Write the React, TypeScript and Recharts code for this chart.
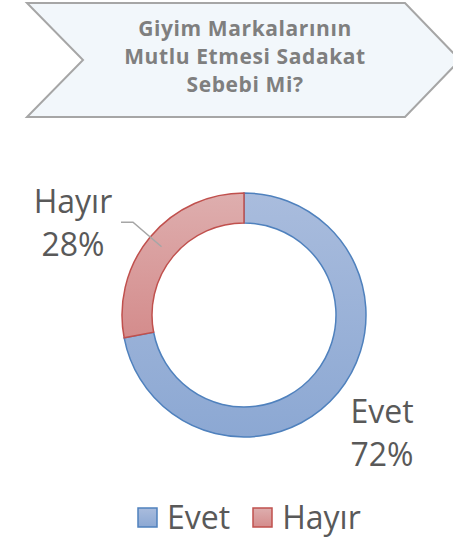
import { PieChart, Pie, Cell, Legend } from "recharts";

const categories = ["Evet", "Hayır"];
const shares = [72, 28];
const titleLines = ["Giyim Markalarının", "Mutlu Etmesi Sadakat", "Sebebi Mi?"];

const data = categories.map((name, i) => ({ name, value: shares[i] }));

const STROKES = ["#4F81BD", "#C0504D"];
const FILLS = ["url(#gradBlue)", "url(#gradRed)"];
const FONT = "'Open Sans', sans-serif";
const RAD = Math.PI / 180;

// where each label sits relative to the slice's outer edge point
const LABEL_SHIFT = [
    { dx: 44, dy: 30 },
    { dx: -77, dy: -24 },
];

const renderLabel = (props: any) => {
    const { cx, cy, midAngle, innerRadius, outerRadius, percent, name, index } = props;
    const ox = cx + outerRadius * Math.cos(-midAngle * RAD);
    const oy = cy + outerRadius * Math.sin(-midAngle * RAD);
    const shift = LABEL_SHIFT[index] || { dx: 0, dy: 0 };
    const tx = ox + shift.dx;
    const ty = oy + shift.dy;
    const mr = (innerRadius + outerRadius) / 2;
    const sx = cx + mr * Math.cos(-midAngle * RAD);
    const sy = cy + mr * Math.sin(-midAngle * RAD);
    return (
        <g>
            {index === 1 && (
                <polyline
                    points={`${sx},${sy} ${ox - 17},${oy - 15} ${ox - 29},${oy - 15}`}
                    fill="none"
                    stroke="#A6A6A6"
                    strokeWidth={1.5}
                />
            )}
            <text x={tx} y={ty} textAnchor="middle" fill="#595959" fontSize={32} fontFamily={FONT}>
                {name}
            </text>
            <text x={tx} y={ty + 43} textAnchor="middle" fill="#595959" fontSize={32} fontFamily={FONT}>
                {Math.round(percent * 100)}%
            </text>
        </g>
    );
};

const renderLegend = () => (
    <div style={{ display: "flex", alignItems: "center", marginLeft: 137, fontFamily: FONT }}>
        {categories.map((c, i) => (
            <div key={c} style={{ display: "flex", alignItems: "center", marginRight: i === 0 ? 22 : 0 }}>
                <svg width={21} height={21} style={{ marginRight: 9 }}>
                    <rect x={1} y={1} width={19} height={19} fill={FILLS[i]} stroke={STROKES[i]} strokeWidth={1.5} />
                </svg>
                <span style={{ fontSize: 32, color: "#595959", lineHeight: "32px" }}>{c}</span>
            </div>
        ))}
    </div>
);

export default function App() {
    return (
        <div style={{ position: "absolute", left: 0, top: 0, background: "#fff" }}>
            <PieChart width={453} height={537} margin={{ top: 0, right: 0, bottom: 0, left: 0 }}>
                <defs>
                    <linearGradient id="gradBlue" x1="0" y1="0" x2="0" y2="1">
                        <stop offset="0%" stopColor="#A9BCDD" />
                        <stop offset="100%" stopColor="#8CA8D3" />
                    </linearGradient>
                    <linearGradient id="gradRed" x1="0" y1="0" x2="0" y2="1">
                        <stop offset="0%" stopColor="#DEAEAE" />
                        <stop offset="100%" stopColor="#D48C8C" />
                    </linearGradient>
                </defs>
                <polygon
                    points="27,3 405,3 460,60 405,117 27,117 83,60"
                    fill="#F2F7FB"
                    stroke="#A6A6A6"
                    strokeWidth={2}
                />
                {titleLines.map((t, i) => (
                    <text
                        key={t}
                        x={245}
                        y={36 + i * 28}
                        textAnchor="middle"
                        fill="#7F7F7F"
                        fontSize={21}
                        letterSpacing={0.6}
                        fontWeight="bold"
                        fontFamily={FONT}
                    >
                        {t}
                    </text>
                ))}
                <Pie
                    data={data}
                    dataKey="value"
                    nameKey="name"
                    cx={244}
                    cy={315}
                    innerRadius={92}
                    outerRadius={122}
                    startAngle={90}
                    endAngle={-270}
                    paddingAngle={0}
                    label={renderLabel}
                    labelLine={false}
                    isAnimationActive={false}
                >
                    {data.map((entry, index) => (
                        <Cell key={entry.name} fill={FILLS[index]} stroke={STROKES[index]} strokeWidth={1.5} />
                    ))}
                </Pie>
                <Legend
                    content={renderLegend}
                    verticalAlign="bottom"
                    wrapperStyle={{ top: 501, left: 0, width: 453 }}
                />
            </PieChart>
        </div>
    );
}
